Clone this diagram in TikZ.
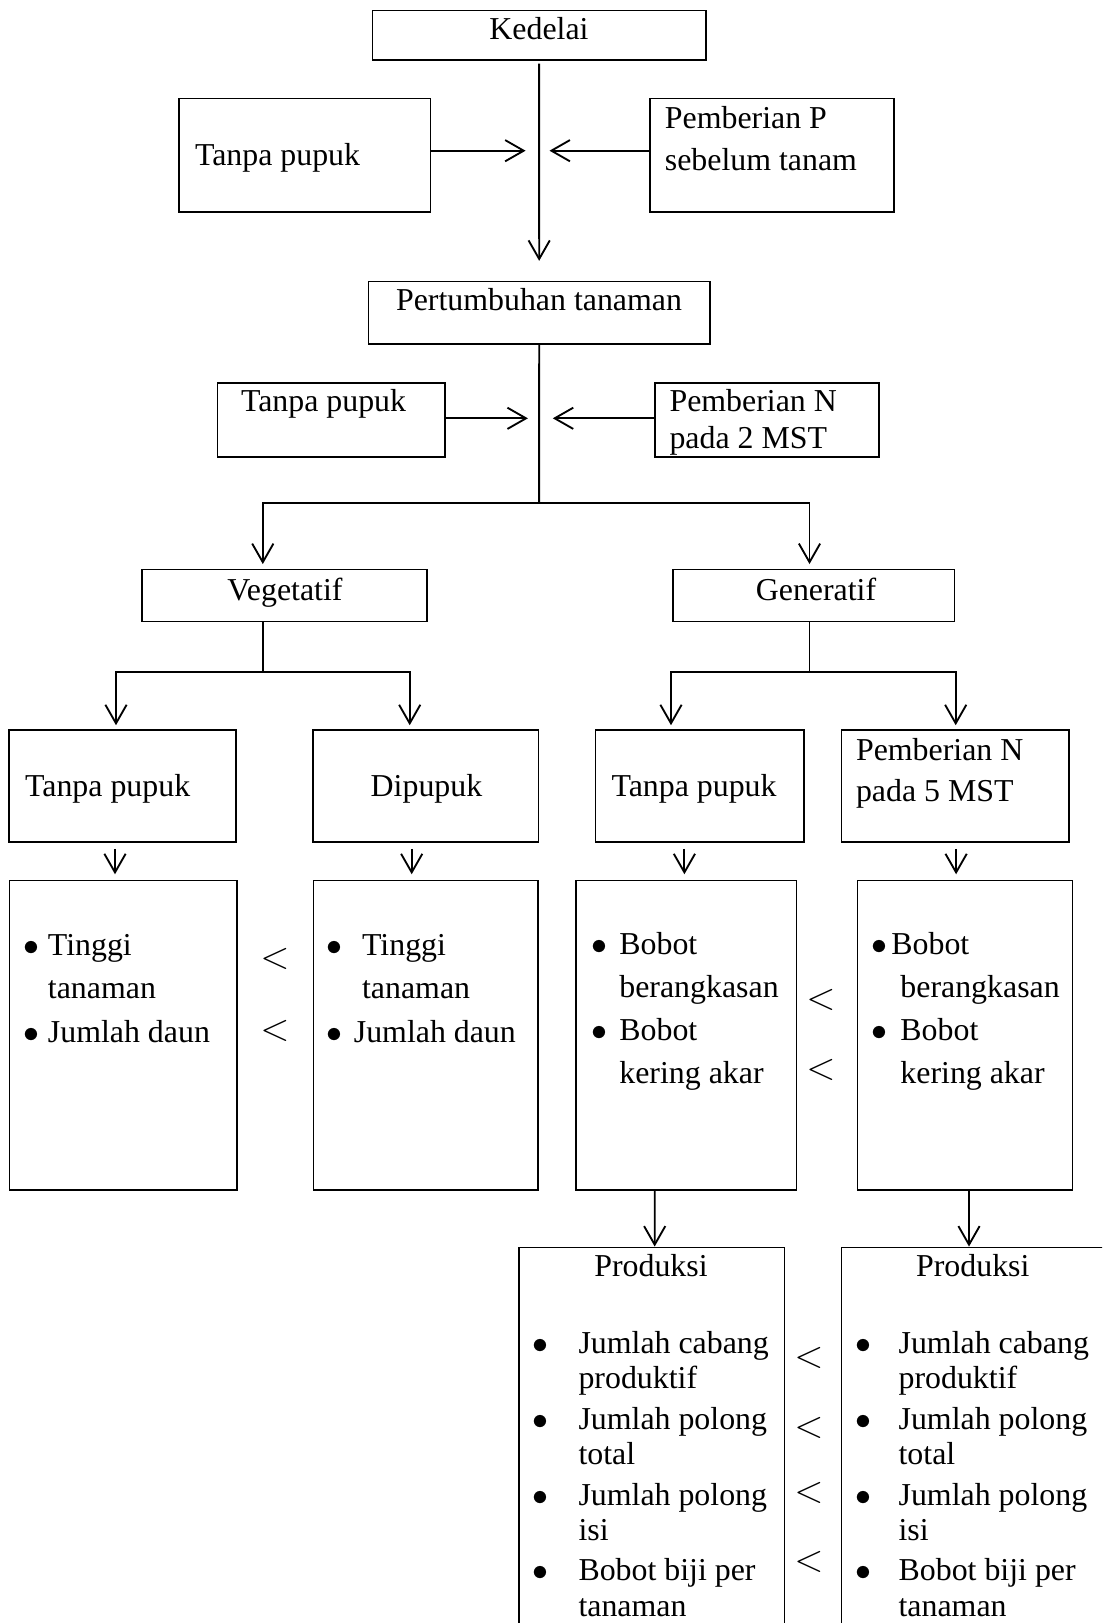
\documentclass[tikz,border=0pt]{standalone}
\usepackage{fontspec}
\setmainfont{Liberation Serif}
\usetikzlibrary{arrows.meta}
\newlength\px
\setlength\px{0.3765pt}
\newcommand{\bul}[1]{\makebox[#1][l]{$\bullet$}}

\begin{document}
\begin{tikzpicture}[x=0.3765pt, y=-0.3765pt,
	box/.style={draw, line width=0.6pt, inner sep=0pt},
	txt/.style={inner sep=0pt, font=\fontsize{12}{14}\selectfont},
	multiline/.style={inner sep=0pt, anchor=north west, align=left, font=\fontsize{12}{#1}\selectfont},
	lt/.style={inner sep=0pt, font=\fontsize{14}{16}\selectfont},
	link/.style={line width=0.7pt},
	arr/.style={line width=0.7pt, -{Straight Barb[length=7pt,width=8pt]}}]
\useasboundingbox (0,0) rectangle (1102,1623);
\clip (0,0) rectangle (1102,1623);

% boxes
\node [box, minimum width=333.2\px, minimum height=49.7\px] (kedelai) at (539.1,35.2) {};
\node [box, minimum width=251.4\px, minimum height=113.7\px] (tpP) at (304.7,155.2) {};
\node [box, minimum width=244.2\px, minimum height=113.7\px] (beriP) at (771.9,155.2) {};
\node [box, minimum width=341.3\px, minimum height=62.3\px] (tumbuh) at (539.2,312.8) {};
\node [box, minimum width=227.7\px, minimum height=74.3\px] (tpN) at (331.3,419.9) {};
\node [box, minimum width=224.4\px, minimum height=74.3\px] (beriN) at (767,419.9) {};
\node [box, minimum width=285\px, minimum height=52.3\px] (veg) at (284.6,595.5) {};
\node [box, minimum width=281.1\px, minimum height=52.3\px] (gen) at (813.8,595.5) {};
\node [box, minimum width=227\px, minimum height=112\px] (tpA) at (122.6,786) {};
\node [box, minimum width=225.6\px, minimum height=112\px] (pupuk) at (425.5,786) {};
\node [box, minimum width=208.4\px, minimum height=112\px] (tpC) at (699.5,786) {};
\node [box, minimum width=227.4\px, minimum height=112\px] (beriD) at (955.1,786) {};
\node [box, minimum width=227.7\px, minimum height=309.5\px] (hasA) at (123.2,1035.3) {};
\node [box, minimum width=224.5\px, minimum height=309.5\px] (hasB) at (425.8,1035.3) {};
\node [box, minimum width=220.2\px, minimum height=309.5\px] (hasC) at (686.3,1035.3) {};
\node [box, minimum width=215\px, minimum height=309.5\px] (hasD) at (964.8,1035.3) {};
\node [box, minimum width=265.3\px, minimum height=402.7\px] (prodC) at (651.9,1448.7) {};
\node [box, minimum width=278.7\px, minimum height=402.7\px] (prodD) at (980.7,1448.7) {};

% texts
\node [txt, anchor=base] (kedelai-t) at (539,39.3) {Kedelai};
\node [txt, anchor=base west] (tpP-t) at (194.5,165) {Tanpa pupuk};
\node [multiline=15.7pt] (beriP-t) at (664.4,99.1) {\strut Pemberian P\\\strut sebelum tanam};
\node [txt, anchor=base] (tumbuh-t) at (539,310) {Pertumbuhan tanaman};
\node [txt, anchor=base west] (tpN-t) at (240.5,411) {Tanpa pupuk};
\node [multiline=14.04pt] (beriN-t) at (669,384.9) {\strut Pemberian N\\\strut pada 2 MST};
\node [txt, anchor=base] (veg-t) at (285,600) {Vegetatif};
\node [txt, anchor=base] (gen-t) at (816,600) {Generatif};
\node [txt, anchor=base west] (tpA-t) at (24.6,796.6) {Tanpa pupuk};
\node [txt, anchor=base] (pupuk-t) at (426.5,796.6) {Dipupuk};
\node [txt, anchor=base west] (tpC-t) at (611,796.6) {Tanpa pupuk};
\node [multiline=15.3pt] (beriD-t) at (855.5,731.5) {\strut Pemberian N\\\strut pada 5 MST};

\node [multiline=16.3pt] (hasA-t) at (23,924.7) {\strut\bul{9.2pt}Tinggi\\\strut\hspace*{9.2pt}tanaman\\\strut\bul{9.2pt}Jumlah daun};
\node [multiline=16.3pt] (hasB-t) at (326,924.7) {\strut\bul{13.4pt}Tinggi\\\strut\hspace*{13.4pt}tanaman\\\strut\bul{10.3pt}Jumlah daun};
\node [multiline=16.2pt] (hasC-t) at (590.7,923.8) {\strut\bul{10.6pt}Bobot\\\strut\hspace*{10.6pt}berangkasan\\\strut\bul{10.6pt}Bobot\\\strut\hspace*{10.6pt}kering akar};
\node [multiline=16.2pt] (hasD-t) at (870.7,923.8) {\strut\bul{7.6pt}Bobot\\\strut\hspace*{11pt}berangkasan\\\strut\bul{11pt}Bobot\\\strut\hspace*{11pt}kering akar};

\node [txt, anchor=base] (prodC-h) at (651,1276.7) {Produksi};
\node [txt, anchor=base] (prodD-h) at (972.8,1276.7) {Produksi};
\node [multiline=13.2pt] (prodC-t) at (532.3,1328.8) {\strut\bul{17.2pt}Jumlah cabang\\\strut\hspace*{17.2pt}produktif\\[2.1pt]
	\strut\bul{17.2pt}Jumlah polong\\\strut\hspace*{17.2pt}total\\[2.1pt]
	\strut\bul{17.2pt}Jumlah polong\\\strut\hspace*{17.2pt}isi\\[2.1pt]
	\strut\bul{17.2pt}Bobot biji per\\\strut\hspace*{17.2pt}tanaman};
\node [multiline=13.2pt] (prodD-t) at (854.8,1328.8) {\strut\bul{16.3pt}Jumlah cabang\\\strut\hspace*{16.3pt}produktif\\[2.1pt]
	\strut\bul{16.3pt}Jumlah polong\\\strut\hspace*{16.3pt}total\\[2.1pt]
	\strut\bul{16.3pt}Jumlah polong\\\strut\hspace*{16.3pt}isi\\[2.1pt]
	\strut\bul{16.3pt}Bobot biji per\\\strut\hspace*{16.3pt}tanaman};

% comparison signs
\node [lt] (ltA1) at (275,959) {$<$};
\node [lt] (ltA2) at (275,1031) {$<$};
\node [lt] (ltC1) at (821,1000) {$<$};
\node [lt] (ltC2) at (821,1070) {$<$};
\node [lt] (ltP1) at (809,1358.3) {$<$};
\node [lt] (ltP2) at (809,1428) {$<$};
\node [lt] (ltP3) at (809,1493.3) {$<$};
\node [lt] (ltP4) at (809,1561.7) {$<$};

% junctions
\coordinate (jP) at (539.1,150.7);
\coordinate (jN) at (539.1,418.3);
\coordinate (split) at (539.1,503);
\coordinate (vsplit) at (262.8,672);
\coordinate (gsplit) at (809.5,672);

% connectors
\draw [arr, shorten <=2.7\px, shorten >=20\px] (kedelai) -- (tumbuh);
\draw [arr, shorten >=13.5\px] (tpP.east |- jP) -- (jP);
\draw [arr, shorten >=10.4\px] (beriP.west |- jP) -- (jP);
\draw [link] (tumbuh) -- (split);
\draw [arr, shorten >=11.2\px] (tpN.east |- jN) -- (jN);
\draw [arr, shorten >=13.7\px] (beriN.west |- jN) -- (jN);
\draw [arr, shorten >=4.5\px] (split) -| ([xshift=-21.8\px]veg.north);
\draw [arr, shorten >=4.5\px] (split) -| ([xshift=-4.3\px]gen.north);
\draw [link] ([xshift=-21.8\px]veg.south) -- (vsplit);
\draw [link] ([xshift=-4.3\px]gen.south) -- (gsplit);
\draw [arr, shorten >=4\px] (vsplit) -| ([xshift=-6.6\px]tpA.north);
\draw [arr, shorten >=4\px] (vsplit) -| ([xshift=-15.8\px]pupuk.north);
\draw [arr, shorten >=4\px] (gsplit) -| ([xshift=-28.5\px]tpC.north);
\draw [arr, shorten >=4\px] (gsplit) -| ([xshift=0.6\px]beriD.north);
\draw [arr, shorten <=6\px, shorten >=5.5\px] ([xshift=-7.6\px]tpA.south) -- ([xshift=-8.2\px]hasA.north);
\draw [arr, shorten <=6\px, shorten >=5.5\px] ([xshift=-13.8\px]pupuk.south) -- ([xshift=-14.1\px]hasB.north);
\draw [arr, shorten <=6\px, shorten >=5.5\px] ([xshift=-15.1\px]tpC.south) -- ([xshift=-1.9\px]hasC.north);
\draw [arr, shorten <=6\px, shorten >=5.5\px] ([xshift=1\px]beriD.south) -- ([xshift=-8.7\px]hasD.north);
\draw [arr] ([xshift=-31.6\px]hasC.south) -- ([xshift=2.8\px]prodC.north);
\draw [arr] ([xshift=4.2\px]hasD.south) -- ([xshift=-11.7\px]prodD.north);
\end{tikzpicture}
\end{document}
